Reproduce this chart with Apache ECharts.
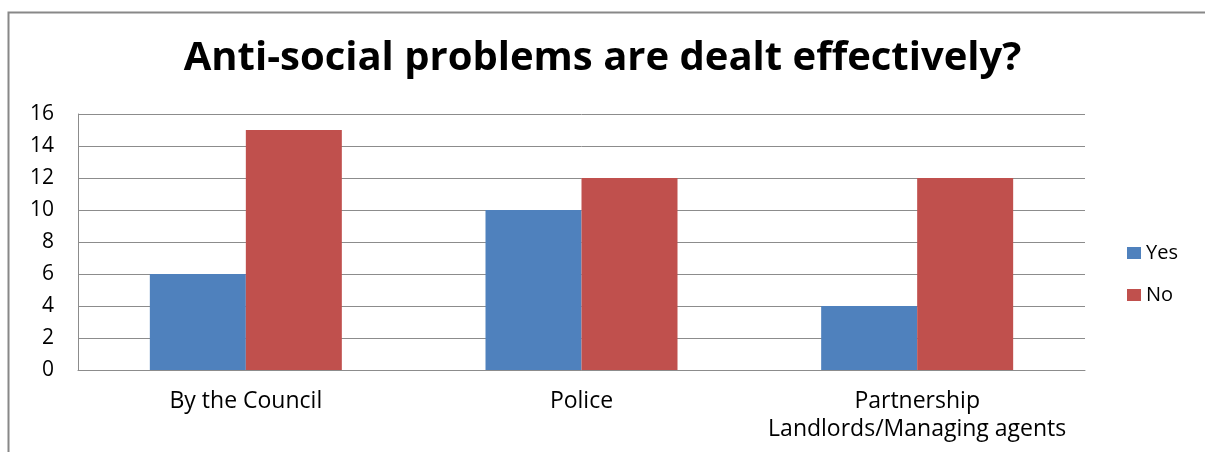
<!DOCTYPE html>
<html>
<head>
<meta charset="utf-8">
<script src="https://cdn.jsdelivr.net/npm/echarts@6/dist/echarts.min.js"></script>
<style>
  html, body { margin: 0; padding: 0; background: #fff; }
  #chart { width: 1205px; height: 452px; }
</style>
</head>
<body>
<div id="chart"></div>
<script>
// Survey answers per agency
const categories = ['By the Council', 'Police', 'Partnership\nLandlords/Managing agents'];
const yesValues = [6, 10, 4];
const noValues = [15, 12, 12];
const yTicks = { min: 0, max: 16, interval: 2 };

const FONT = '"Open Sans", sans-serif';
const chart = echarts.init(document.getElementById('chart'), null, { renderer: 'canvas' });

chart.setOption({
  backgroundColor: '#ffffff',
  animation: false,
  title: {
    text: 'Anti-social problems are dealt effectively?',
    left: 'center',
    top: 39,
    padding: 0,
    textStyle: { fontFamily: FONT, fontWeight: 'bold', fontSize: 40, color: '#000' }
  },
  legend: {
    orient: 'vertical',
    left: 1127,
    top: 243,
    padding: 0,
    itemWidth: 14,
    itemHeight: 12,
    itemGap: 22,
    icon: 'rect',
    textStyle: { fontFamily: FONT, fontSize: 20, color: '#000' },
    data: ['Yes', 'No']
  },
  grid: { left: 78, right: 120, top: 114, bottom: 82, containLabel: false },
  xAxis: {
    type: 'category',
    data: categories,
    axisLine: { show: true, lineStyle: { color: '#8c8c8c', width: 1 } },
    axisTick: { show: false },
    axisLabel: {
      interval: 0, hideOverlap: false,
      fontFamily: FONT, fontSize: 23, color: '#000', margin: 17, lineHeight: 28
    }
  },
  yAxis: {
    type: 'value',
    min: yTicks.min,
    max: yTicks.max,
    interval: yTicks.interval,
    axisLine: { show: true, lineStyle: { color: '#8c8c8c', width: 1 } },
    axisTick: { show: false },
    splitLine: { show: true, lineStyle: { color: '#8c8c8c', width: 1 } },
    axisLabel: { fontFamily: FONT, fontSize: 21, color: '#000', margin: 24 }
  },
  series: [
    {
      name: 'Yes', type: 'bar', data: yesValues,
      barWidth: '28.6%', barGap: '0%',
      itemStyle: { color: '#4F81BD' }
    },
    {
      name: 'No', type: 'bar', data: noValues,
      barWidth: '28.6%', barGap: '0%',
      itemStyle: { color: '#C0504D' }
    }
  ],
  graphic: [
    {
      type: 'rect',
      shape: { x: 8.5, y: 12.5, width: 1300, height: 600 },
      style: { fill: null, stroke: '#888888', lineWidth: 2 },
      silent: true
    }
  ]
});
</script>
</body>
</html>
